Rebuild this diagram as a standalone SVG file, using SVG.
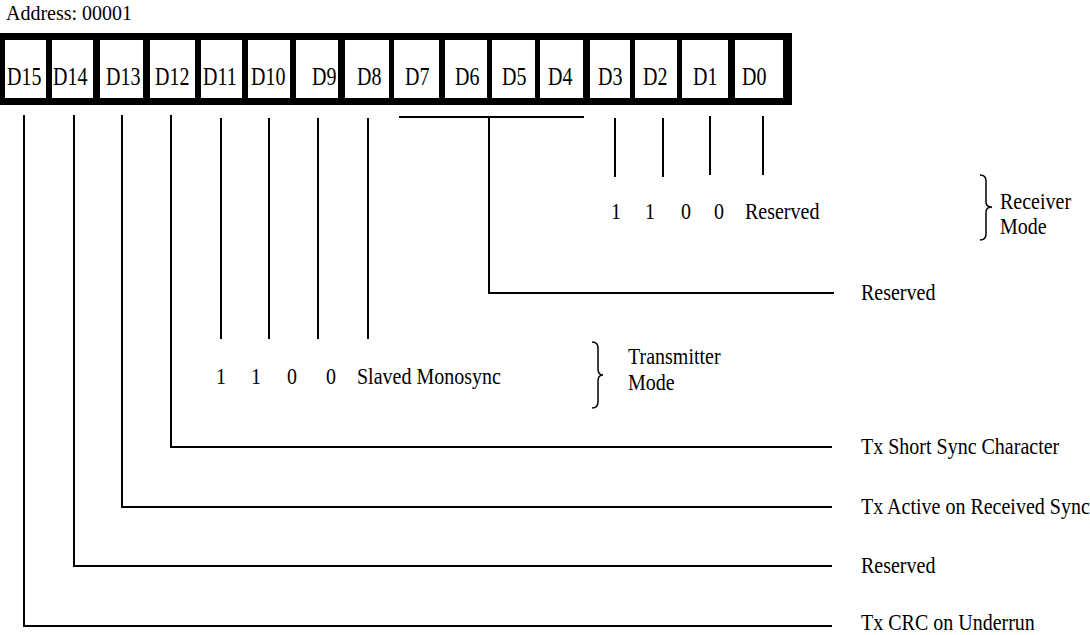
<svg xmlns="http://www.w3.org/2000/svg" width="1090" height="635" viewBox="0 0 1090 635">
<style>
text{font-family:"Liberation Serif","Times New Roman",serif;font-size:20px;fill:#000}
.cell{fill:#fff}
.ln{stroke:#000;stroke-width:2;fill:none}
.br{stroke:#000;stroke-width:1.5;fill:none}
</style>
<rect width="1090" height="635" fill="#fff"/>
<text x="6" y="20">Address: 00001</text>
<g id="register">
<rect x="0" y="33" width="792" height="72" fill="#000"/>
<g id="d15"><rect class="cell" x="5" y="40" width="41" height="58"/><text transform="matrix(1 0 0 1.3 7 85)">D15</text></g>
<g id="d14"><rect class="cell" x="52" y="40" width="41" height="58"/><text transform="matrix(1 0 0 1.3 53 85)">D14</text></g>
<g id="d13"><rect class="cell" x="100" y="40" width="43" height="58"/><text transform="matrix(1 0 0 1.3 106 85)">D13</text></g>
<g id="d12"><rect class="cell" x="150" y="40" width="45" height="58"/><text transform="matrix(1 0 0 1.3 155 85)">D12</text></g>
<g id="d11"><rect class="cell" x="201" y="40" width="41" height="58"/><text transform="matrix(1 0 0 1.3 203 85)">D11</text></g>
<g id="d10"><rect class="cell" x="248" y="40" width="42" height="58"/><text transform="matrix(1 0 0 1.3 251 85)">D10</text></g>
<g id="d9"><rect class="cell" x="296" y="40" width="42" height="58"/><text transform="matrix(1 0 0 1.3 312 85)">D9</text></g>
<g id="d8"><rect class="cell" x="345" y="40" width="44" height="58"/><text transform="matrix(1 0 0 1.3 357 85)">D8</text></g>
<g id="d7"><rect class="cell" x="394" y="40" width="45" height="58"/><text transform="matrix(1 0 0 1.3 405 85)">D7</text></g>
<g id="d6"><rect class="cell" x="445" y="40" width="42" height="58"/><text transform="matrix(1 0 0 1.3 455 85)">D6</text></g>
<g id="d5"><rect class="cell" x="492" y="40" width="43" height="58"/><text transform="matrix(1 0 0 1.3 502 85)">D5</text></g>
<g id="d4"><rect class="cell" x="540" y="40" width="43" height="58"/><text transform="matrix(1 0 0 1.3 548 85)">D4</text></g>
<g id="d3"><rect class="cell" x="590" y="40" width="40" height="58"/><text transform="matrix(1 0 0 1.3 598 85)">D3</text></g>
<g id="d2"><rect class="cell" x="635" y="40" width="42" height="58"/><text transform="matrix(1 0 0 1.3 643 85)">D2</text></g>
<g id="d1"><rect class="cell" x="682" y="40" width="46" height="58"/><text transform="matrix(1 0 0 1.3 693 85)">D1</text></g>
<g id="d0"><rect class="cell" x="735" y="40" width="48" height="58"/><text transform="matrix(1 0 0 1.3 742 85)">D0</text></g>
</g>
<g id="connectors">
<path class="ln" d="M24 115V626H832"/>
<path class="ln" d="M74 115V566H832"/>
<path class="ln" d="M122 115V507H832"/>
<path class="ln" d="M171 115V447H832"/>
<path class="ln" d="M221 118V339M269 118V339M318 118V339M368 118V339"/>
<path class="ln" d="M399 117H584M489 117V293H834"/>
<path class="ln" d="M615 118V177M663 118V177M710 116V175M763 116V175"/>
</g>
<g id="receiver-mode">
<text transform="matrix(1 0 0 1.15 611 219)">1</text>
<text transform="matrix(1 0 0 1.15 645 219)">1</text>
<text transform="matrix(1 0 0 1.15 681 219)">0</text>
<text transform="matrix(1 0 0 1.15 714 219)">0</text>
<text transform="matrix(1 0 0 1.15 745 219)">Reserved</text>
<path class="br" d="M980 175Q986 175 986 181V202Q986 207 992 207Q986 207 986 212V234Q986 240 980 240"/>
<text transform="matrix(1 0 0 1.15 1000 209)">Receiver</text>
<text transform="matrix(1 0 0 1.15 1000 234)">Mode</text>
</g>
<g id="transmitter-mode">
<text transform="matrix(1 0 0 1.15 216 384)">1</text>
<text transform="matrix(1 0 0 1.15 251 384)">1</text>
<text transform="matrix(1 0 0 1.15 287 384)">0</text>
<text transform="matrix(1 0 0 1.15 326 384)">0</text>
<text transform="matrix(1 0 0 1.15 357 384)">Slaved Monosync</text>
<path class="br" d="M592 342Q598 342 598 348V369Q598 375 603 375Q598 375 598 381V402Q598 408 592 408"/>
<text transform="matrix(1 0 0 1.15 628 364)">Transmitter</text>
<text transform="matrix(1 0 0 1.15 628 390)">Mode</text>
</g>
<g id="labels">
<text transform="matrix(1 0 0 1.15 861 300)">Reserved</text>
<text transform="matrix(1 0 0 1.15 861 454)">Tx Short Sync Character</text>
<text transform="matrix(1 0 0 1.15 861 514)">Tx Active on Received Sync</text>
<text transform="matrix(1 0 0 1.15 861 573)">Reserved</text>
<text transform="matrix(1 0 0 1.15 861 630)">Tx CRC on Underrun</text>
</g>
</svg>
